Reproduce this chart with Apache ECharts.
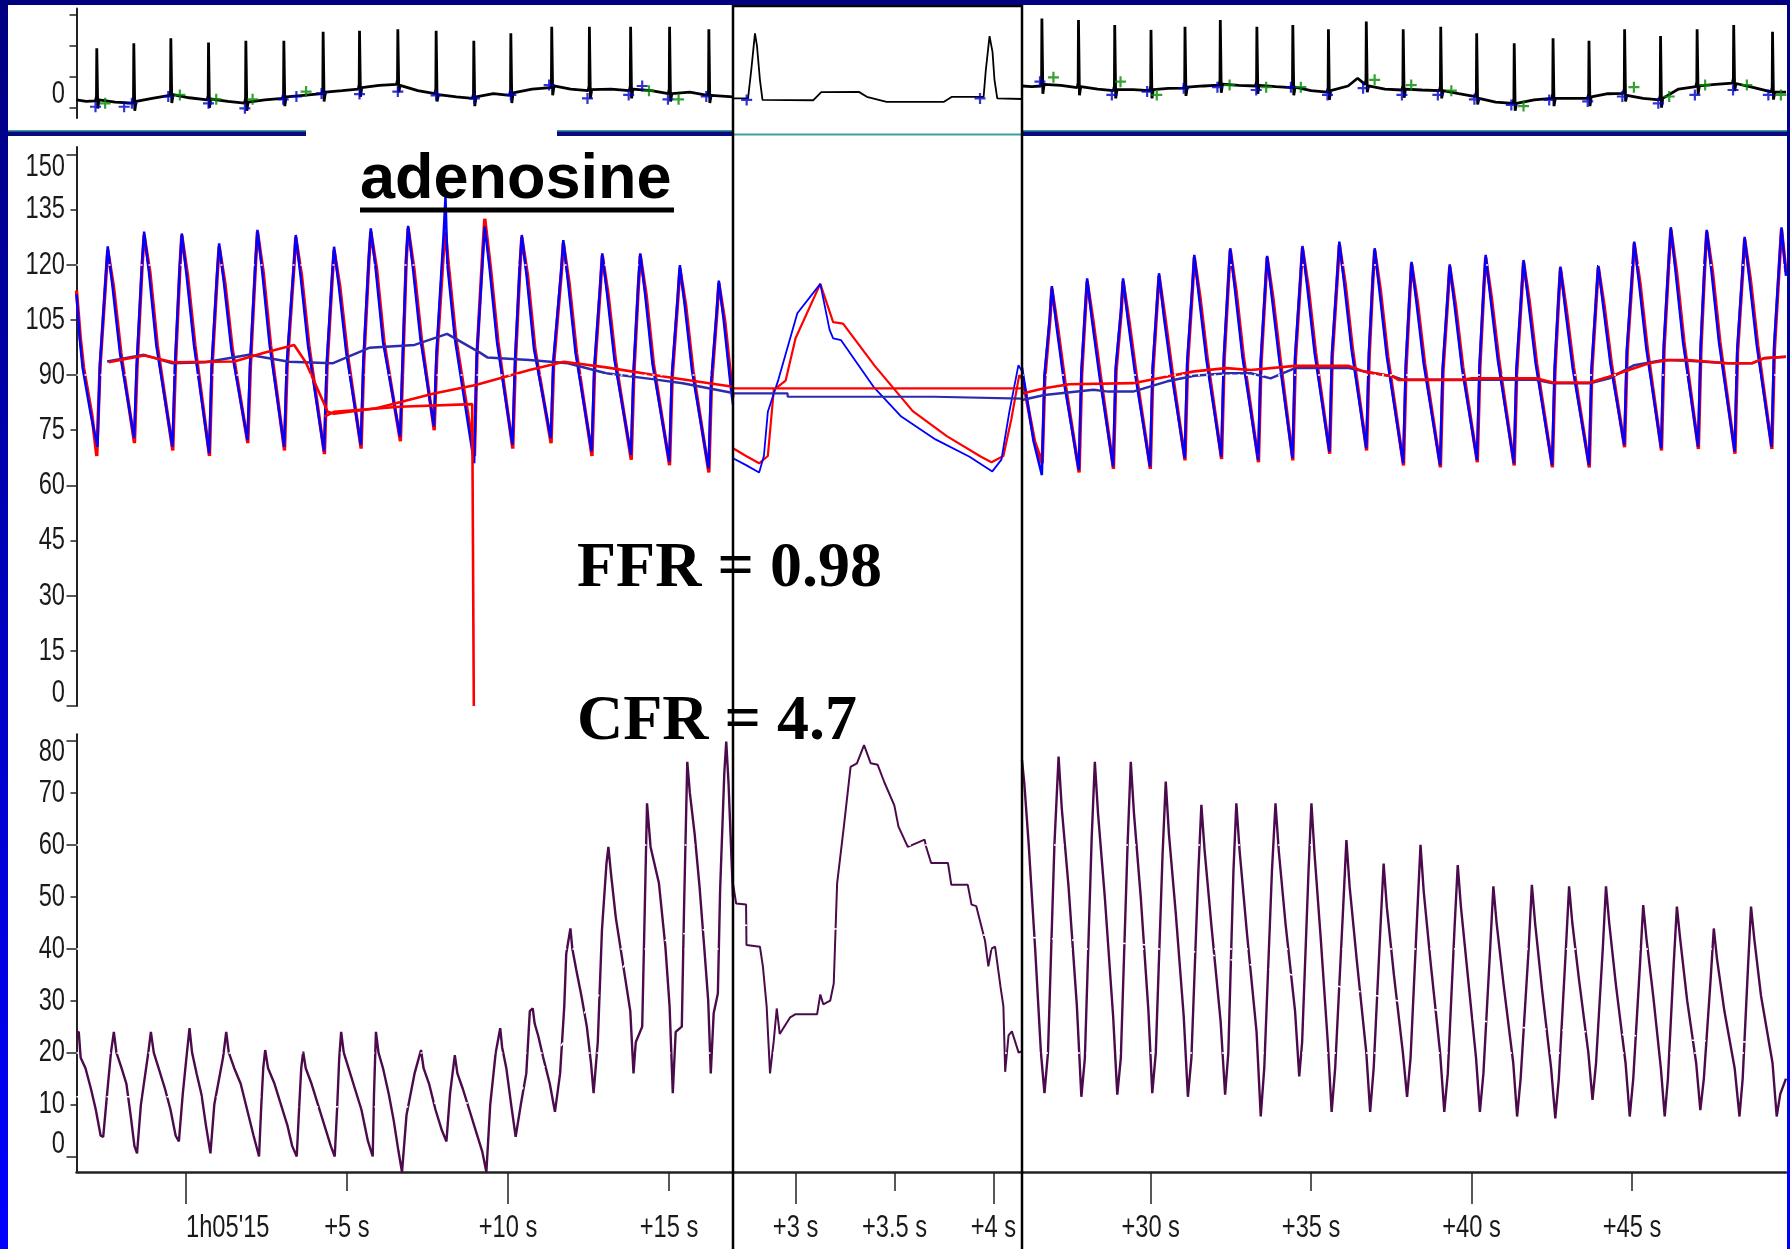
<!DOCTYPE html>
<html><head><meta charset="utf-8">
<script src="https://cdn.jsdelivr.net/npm/echarts@6/dist/echarts.min.js"></script>
<style>html,body{margin:0;padding:0;background:#fff;overflow:hidden}#c{width:1790px;height:1249px}</style>
</head><body><div id="c"></div><script>
// ---------------- tick labels ----------------
const leftTickValues = [0, 5, 10, 15];
const leftTickLabels = ["1h05'15", '+5 s', '+10 s', '+15 s'];
const leftMajor = [0, 10], leftMinor = [5, 15];
const midTickValues = [3, 3.5, 4];
const midTickLabels = ['+3 s', '+3.5 s', '+4 s'];
const midMajor = [3, 4], midMinor = [3.5];
const rightTickValues = [30, 35, 40, 45];
const rightTickLabels = ['+30 s', '+35 s', '+40 s', '+45 s'];
const rightMajor = [30, 40], rightMinor = [35, 45];
const pressureLabels = [0, 15, 30, 45, 60, 75, 90, 105, 120, 135, 150];
const pressureMajor = [0, 30, 60, 90, 120, 150], pressureMinor = [15, 45, 75, 105, 135];
const flowLabels = [0, 10, 20, 30, 40, 50, 60, 70, 80];
const flowMajor = [0, 20, 40, 60, 80], flowMinor = [10, 30, 50, 70];
const ecgTicks = [0, 1, 2, 3], ecgLabels = [0];
const xRangeLeft = [-3.4, 16.99], xRangeMid = [2.684, 4.144], xRangeRight = [25.99, 49.8];

// ---------------- ECG ----------------
const ecgLeft = [
[-3.40,0.25],[-3.10,0.20],
[-2.81,0.22],[-2.78,0.37],[-2.77,1.92],[-2.74,-0.03],[-2.70,0.25],[-2.20,0.18],
[-1.66,0.15],[-1.63,0.30],[-1.62,2.08],[-1.59,-0.10],[-1.55,0.20],[-1.05,0.30],
[-0.51,0.40],[-0.48,0.55],[-0.47,2.24],[-0.44,0.15],[-0.40,0.42],[0.10,0.32],
[0.66,0.25],[0.69,0.40],[0.70,2.10],[0.73,0.00],[0.77,0.28],[1.30,0.20],
[1.82,0.15],[1.85,0.30],[1.86,2.16],[1.89,-0.10],[1.93,0.18],[2.45,0.25],
[3.00,0.30],[3.03,0.45],[3.04,2.16],[3.07,0.05],[3.11,0.35],[3.65,0.40],
[4.22,0.45],[4.25,0.60],[4.26,2.45],[4.29,0.20],[4.33,0.50],[4.85,0.55],
[5.35,0.60],[5.38,0.75],[5.39,2.48],[5.42,0.35],[5.46,0.65],[6.00,0.72],
[6.54,0.75],[6.57,0.90],[6.58,2.53],[6.61,0.50],[6.65,0.72],[7.20,0.55],
[7.73,0.45],[7.76,0.60],[7.77,2.48],[7.80,0.20],[7.84,0.42],[8.40,0.35],
[8.90,0.30],[8.93,0.45],[8.94,2.16],[8.97,0.05],[9.01,0.35],[9.55,0.45],
[10.05,0.40],[10.08,0.55],[10.09,2.40],[10.12,0.15],[10.16,0.48],[10.75,0.60],
[11.32,0.65],[11.35,0.80],[11.36,2.61],[11.39,0.40],[11.43,0.70],[11.95,0.60],
[12.49,0.55],[12.52,0.70],[12.53,2.61],[12.56,0.30],[12.60,0.58],[13.20,0.60],
[13.77,0.55],[13.80,0.70],[13.81,2.61],[13.84,0.30],[13.88,0.60],[14.45,0.55],
[14.98,0.45],[15.01,0.60],[15.02,2.61],[15.05,0.20],[15.09,0.45],[15.65,0.50],
[16.20,0.40],[16.23,0.55],[16.24,2.53],[16.27,0.15],[16.31,0.40],[16.99,0.35]
];
const ecgMid = [
[2.684,0.30],[2.76,0.30],[2.776,1.20],[2.795,2.40],[2.805,2.00],[2.82,0.90],[2.833,0.25],
[3.09,0.24],[3.13,0.50],[3.32,0.51],[3.36,0.35],[3.46,0.19],[3.75,0.19],[3.79,0.35],[3.95,0.35],
[3.961,1.20],[3.98,2.31],[3.995,1.80],[4.005,0.90],[4.019,0.30],[4.144,0.28]
];
const ecgRight = [
[25.99,0.70],[26.30,0.68],
[26.57,0.70],[26.60,0.85],[26.61,2.88],[26.64,0.45],[26.68,0.75],[27.20,0.72],
[27.71,0.65],[27.74,0.80],[27.75,2.83],[27.78,0.40],[27.82,0.68],[28.35,0.60],
[28.84,0.55],[28.87,0.70],[28.88,2.67],[28.91,0.30],[28.95,0.58],[29.45,0.58],
[29.97,0.55],[30.00,0.70],[30.01,2.51],[30.04,0.30],[30.08,0.58],[30.55,0.62],
[31.03,0.63],[31.06,0.78],[31.07,2.61],[31.10,0.38],[31.14,0.66],[31.65,0.70],
[32.13,0.73],[32.16,0.88],[32.17,2.83],[32.20,0.48],[32.24,0.76],[32.75,0.72],
[33.27,0.70],[33.30,0.85],[33.31,2.61],[33.34,0.45],[33.38,0.72],[33.90,0.68],
[34.39,0.65],[34.42,0.80],[34.43,2.67],[34.46,0.40],[34.50,0.66],[35.00,0.55],
[35.50,0.50],[35.53,0.65],[35.54,2.53],[35.57,0.25],[35.61,0.55],[36.15,0.70],
[36.45,0.95],[36.68,0.75],[36.71,0.90],[36.72,2.78],[36.75,0.50],[36.79,0.70],[37.30,0.60],
[37.83,0.57],[37.86,0.72],[37.87,2.53],[37.90,0.32],[37.94,0.60],[38.45,0.57],
[39.00,0.55],[39.03,0.70],[39.04,2.61],[39.07,0.30],[39.11,0.55],[39.60,0.45],
[40.12,0.36],[40.15,0.51],[40.16,2.40],[40.19,0.10],[40.23,0.30],[40.75,0.18],
[41.29,0.14],[41.32,0.29],[41.33,2.08],[41.36,-0.10],[41.40,0.14],[41.95,0.25],
[42.50,0.30],[42.53,0.45],[42.54,2.24],[42.57,0.05],[42.61,0.30],[43.10,0.30],
[43.62,0.30],[43.65,0.45],[43.66,2.16],[43.69,0.05],[43.73,0.35],[44.25,0.45],
[44.73,0.46],[44.76,0.61],[44.77,2.53],[44.80,0.20],[44.84,0.40],[45.35,0.30],
[45.85,0.25],[45.88,0.40],[45.89,2.31],[45.92,0.00],[45.96,0.30],[46.45,0.60],
[46.99,0.68],[47.02,0.83],[47.03,2.53],[47.06,0.43],[47.10,0.70],[47.60,0.75],
[48.13,0.79],[48.16,0.94],[48.17,2.67],[48.20,0.54],[48.24,0.78],[48.80,0.65],
[49.34,0.51],[49.37,0.66],[49.38,2.45],[49.41,0.26],[49.45,0.50],[49.80,0.50]
];
const ecgBlueLeft = [[-2.81,0.03],[-1.92,0.03],[-1.68,0.14],[-0.55,0.36],[0.70,0.14],[1.83,-0.02],[3.02,0.27],[3.43,0.36],[4.21,0.46],[5.39,0.44],[6.58,0.52],[7.77,0.40],[8.96,0.30],[10.09,0.41],[11.28,0.73],[12.47,0.30],[13.75,0.41],[14.17,0.70],[14.97,0.27],[16.16,0.36]];
const ecgGreenLeft = [[-2.51,0.14],[-0.19,0.41],[0.94,0.27],[2.07,0.27],[3.73,0.52],[14.38,0.55],[15.30,0.27]];
const ecgBlueMid = [[2.753,0.25],[3.932,0.30]];
const ecgBlueRight = [[26.55,0.84],[28.79,0.41],[29.89,0.52],[31.03,0.63],[32.08,0.66],[33.29,0.57],[34.37,0.66],[35.51,0.41],[36.62,0.63],[37.83,0.41],[38.95,0.41],[40.09,0.27],[41.24,0.09],[42.42,0.25],[43.62,0.20],[44.70,0.36],[45.82,0.14],[46.96,0.41],[48.15,0.57],[49.25,0.41]];
const ecgGreenRight = [[26.97,0.98],[29.06,0.84],[30.19,0.41],[32.46,0.73],[33.60,0.66],[34.68,0.66],[36.98,0.90],[38.12,0.73],[39.37,0.55],[41.62,0.05],[45.06,0.66],[46.16,0.36],[47.28,0.73],[48.58,0.73],[49.64,0.41]];

// ---------------- Pressure ----------------
const paLeft = [
[-3.40,112],[-3.30,100],[-3.21,92],[-2.95,79],[-2.75,70.5],
[-2.67,93],[-2.49,117],[-2.43,125],[-2.28,114],[-2.05,96],[-1.61,72.8],
[-1.53,93],[-1.36,121],[-1.30,129],[-1.15,118],[-0.92,98],[-0.42,70.5],
[-0.34,93],[-0.19,120],[-0.13,128.5],[0.02,117],[0.25,98],[0.72,68.7],
[0.80,93],[0.97,118],[1.03,125.8],[1.18,115],[1.41,97],[1.91,72.3],
[1.99,93],[2.16,121],[2.22,129.5],[2.37,118],[2.60,98],[3.05,70.5],
[3.13,93],[3.35,120],[3.41,128.1],[3.56,117],[3.79,98],[4.29,69.2],
[4.37,93],[4.54,117],[4.60,124.9],[4.75,114],[4.98,96],[5.43,71.0],
[5.51,94],[5.68,122],[5.74,129.9],[5.89,119],[6.12,99],[6.65,73.2],
[6.73,95],[6.84,122],[6.90,130.6],[7.05,119],[7.28,100],[7.70,76.0],
[7.78,96],[8.00,128],[8.06,138.5],[8.12,120],[8.35,100],[8.95,66.0],
[9.03,95],[9.22,122],[9.28,130.4],[9.43,119],[9.66,99],[10.14,71.0],
[10.22,94],[10.37,120],[10.43,128.1],[10.58,117],[10.81,97],[11.33,72.8],
[11.41,94],[11.66,119],[11.72,126.7],[11.87,115],[12.10,96],[12.60,69.2],
[12.68,92],[12.87,115],[12.93,123.1],[13.08,112],[13.31,94],[13.82,68.3],
[13.90,91],[14.05,115],[14.11,123.1],[14.26,112],[14.49,93],[15.01,66.4],
[15.09,90],[15.28,112],[15.34,119.9],[15.49,109],[15.72,91],[16.23,64.6],
[16.31,88],[16.49,108],[16.55,115.7],[16.70,105],[16.93,86],[16.99,82]
];
const pdLeft = [
[-3.40,113],[-3.28,100],[-3.18,92],[-2.92,79],[-2.77,68.0],
[-2.67,92],[-2.49,116],[-2.43,124],[-2.25,114],[-2.02,96],[-1.60,71.5],
[-1.52,92],[-1.36,120],[-1.30,128],[-1.12,118],[-0.89,98],[-0.41,69.5],
[-0.33,92],[-0.19,119],[-0.13,128],[0.05,117],[0.28,98],[0.73,68.0],
[0.81,92],[0.97,117],[1.03,125],[1.21,115],[1.44,97],[1.92,71.5],
[2.00,92],[2.16,120],[2.22,129],[2.40,118],[2.63,98],[3.06,69.5],
[3.14,92],[3.35,119],[3.41,127.5],[3.59,117],[3.82,98],[4.30,68.5],
[4.38,92],[4.54,116],[4.60,124],[4.78,114],[5.01,96],[5.44,70.0],
[5.52,93],[5.68,121],[5.74,129],[5.92,119],[6.15,99],[6.66,72.0],
[6.74,94],[6.84,121],[6.90,130],[7.08,119],[7.31,100],[7.71,75.0],
[7.79,95],[8.00,124],[8.06,129],[8.15,120],[8.38,100],[8.96,68.0],
[9.04,96],[9.22,124],[9.28,132.5],[9.46,119],[9.69,99],[10.15,70.0],
[10.23,93],[10.37,119],[10.43,127.5],[10.61,117],[10.84,97],[11.34,71.5],
[11.42,93],[11.66,118],[11.72,126],[11.90,115],[12.13,96],[12.61,68.0],
[12.69,91],[12.87,114],[12.93,122.5],[13.11,112],[13.34,94],[13.83,67.0],
[13.91,90],[14.05,114],[14.11,122.5],[14.29,112],[14.52,93],[15.02,65.5],
[15.10,89],[15.28,111],[15.34,119],[15.52,109],[15.75,91],[16.24,63.5],
[16.32,87],[16.49,107],[16.55,115],[16.73,105],[16.96,86],[16.99,84]
];
const paMeanLeft = [[-2.45,93.7],[-1.30,95.5],[-0.42,93.2],[0.60,93.5],[1.96,95.5],[3.20,93.6],[4.55,93.2],[5.69,97.4],[7.10,98.2],[8.11,101.2],[9.13,96.1],[9.36,94.8],[10.67,94.1],[11.86,93.2],[13.05,90.5],[14.48,88.9],[15.43,87.8],[16.99,85.1]];
const pdMeanLeft = [[-2.40,93.5],[-1.30,95.3],[-0.40,93.5],[1.50,93.7],[2.43,96.1],[3.36,98.2],[3.72,93.5],[4.40,80.0],[4.60,79.5],[5.91,81.0],[7.70,85.0],[9.00,87.3],[10.67,91.4],[11.74,93.6],[13.05,92.1],[14.83,89.6],[16.99,86.8]];
const pdMeanLeftOld = [[4.30,78.7],[4.60,80.0],[6.63,81.4],[8.89,82.1],[8.94,82.0],[8.94,0]];

const paMid = [[2.684,67.4],[2.75,65.5],[2.816,63.5],[2.84,68],[2.86,80],[2.913,88.7],[3.009,106.8],[3.125,114.8],[3.172,102.3],[3.19,100],[3.23,99.5],[3.394,86.8],[3.534,78.7],[3.707,72.5],[3.879,67.8],[3.994,63.8],[4.04,67],[4.08,80],[4.126,92.7],[4.144,91]];
const pdMid = [[2.684,70.1],[2.75,68],[2.816,66.0],[2.86,68],[2.89,86],[2.95,88.5],[3.0,100],[3.125,114.8],[3.19,104.4],[3.24,104],[3.40,92.5],[3.592,80.2],[3.764,73.4],[3.937,67.8],[3.99,66.3],[4.05,68],[4.09,78],[4.13,90],[4.144,89]];
const paMeanMid = [[2.684,85.0],[2.96,85.0],[2.96,84.1],[3.70,84.1],[3.70,83.6],[4.144,83.6]];
const pdMeanMid = [[2.684,86.4],[4.144,86.4]];

const paRight = [
[25.99,92],[26.10,86],[26.35,72],[26.61,62.8],
[26.69,90],[26.86,106],[26.92,114.2],[27.07,103],[27.30,88],[27.76,64.2],
[27.84,91],[27.96,108],[28.02,116.3],[28.17,105],[28.40,90],[28.83,65.1],
[28.91,92],[29.08,108],[29.14,116.3],[29.29,105],[29.52,90],[29.98,65.1],
[30.06,92],[30.20,110],[30.26,117.7],[30.41,106],[30.64,91],[31.06,67.4],
[31.14,94],[31.30,114],[31.36,122.7],[31.51,111],[31.74,94],[32.20,67.8],
[32.28,95],[32.42,116],[32.48,124.5],[32.63,113],[32.86,95],[33.35,66.9],
[33.43,94],[33.57,114],[33.63,122.4],[33.78,111],[34.01,94],[34.42,67.4],
[34.50,95],[34.67,117],[34.73,125.1],[34.88,114],[35.11,96],[35.57,69.2],
[35.65,96],[35.82,118],[35.88,126.3],[36.03,115],[36.26,97],[36.72,70.1],
[36.80,96],[36.92,116],[36.98,124.5],[37.13,113],[37.36,95],[37.87,66.0],
[37.95,93],[38.07,112],[38.13,120.8],[38.28,110],[38.51,93],[39.02,65.5],
[39.10,92],[39.26,112],[39.32,120.1],[39.47,109],[39.70,92],[40.17,66.9],
[40.25,93],[40.38,114],[40.44,122.7],[40.59,111],[40.82,94],[41.32,66.0],
[41.40,92],[41.56,113],[41.62,121.3],[41.77,110],[42.00,93],[42.51,65.5],
[42.59,92],[42.71,111],[42.77,119.5],[42.92,108],[43.15,92],[43.66,65.5],
[43.74,92],[43.89,112],[43.95,119.9],[44.10,109],[44.33,93],[44.76,71.0],
[44.84,97],[45.01,118],[45.07,126.3],[45.22,115],[45.45,97],[45.91,70.1],
[45.99,98],[46.15,122],[46.21,130.2],[46.36,118],[46.59,99],[47.06,70.5],
[47.14,98],[47.27,121],[47.33,129.5],[47.48,118],[47.71,99],[48.20,69.2],
[48.28,97],[48.45,119],[48.51,127.6],[48.66,116],[48.89,98],[49.35,70.5],
[49.43,98],[49.60,122],[49.66,130.2],[49.80,117]
];
const pdRight = [
[25.99,90],[26.12,84],[26.38,72],[26.62,66.0],
[26.70,89],[26.86,105],[26.92,113.5],[27.10,103],[27.33,88],[27.77,63.5],
[27.85,90],[27.96,107],[28.02,115.5],[28.20,105],[28.43,90],[28.84,64.5],
[28.92,91],[29.08,107],[29.14,115.5],[29.32,105],[29.55,90],[29.99,64.5],
[30.07,91],[30.20,109],[30.26,117],[30.44,106],[30.67,91],[31.07,66.8],
[31.15,93],[31.30,113],[31.36,122],[31.54,111],[31.77,94],[32.21,67.2],
[32.29,94],[32.42,115],[32.48,124],[32.66,113],[32.89,95],[33.36,66.3],
[33.44,93],[33.57,113],[33.63,122],[33.81,111],[34.04,94],[34.43,66.8],
[34.51,94],[34.67,116],[34.73,124.5],[34.91,114],[35.14,96],[35.58,68.6],
[35.66,95],[35.82,117],[35.88,125.5],[36.06,115],[36.29,97],[36.73,69.5],
[36.81,95],[36.92,115],[36.98,124],[37.16,113],[37.39,95],[37.88,65.4],
[37.96,92],[38.07,111],[38.13,120.3],[38.31,110],[38.54,93],[39.03,64.9],
[39.11,91],[39.26,111],[39.32,119.5],[39.50,109],[39.73,92],[40.18,66.3],
[40.26,92],[40.38,113],[40.44,122],[40.62,111],[40.85,94],[41.33,65.4],
[41.41,91],[41.56,112],[41.62,120.8],[41.80,110],[42.03,93],[42.52,64.9],
[42.60,91],[42.71,110],[42.77,119],[42.95,108],[43.18,92],[43.67,64.9],
[43.75,91],[43.89,111],[43.95,119.3],[44.13,109],[44.36,93],[44.77,70.4],
[44.85,96],[45.01,117],[45.07,125.8],[45.25,115],[45.48,97],[45.92,69.5],
[46.00,97],[46.15,121],[46.21,129.6],[46.39,118],[46.62,99],[47.07,69.9],
[47.15,97],[47.27,120],[47.33,129],[47.51,118],[47.74,99],[48.21,68.6],
[48.29,96],[48.45,118],[48.51,127],[48.69,116],[48.92,98],[49.36,69.9],
[49.44,97],[49.60,121],[49.66,129.6],[49.80,118]
];
const paMeanRight = [[25.99,83.2],[26.69,84.6],[28.22,86.0],[28.68,85.5],[29.45,85.5],[30.52,88.3],[31.36,89.8],[32.36,90.5],[33.12,90.5],[33.74,89.1],[34.50,91.9],[36.18,91.9],[36.64,91.0],[37.56,89.6],[37.87,88.7],[42.0,88.7],[42.54,87.8],[43.69,87.8],[44.30,89.1],[45.07,92.7],[45.98,94.1],[46.75,93.9],[47.98,93.2],[48.74,93.2],[49.12,94.6],[49.80,95.0]];
const pdMeanRight = [[25.99,85.0],[26.69,86.4],[27.46,87.5],[29.45,87.8],[30.52,89.6],[31.36,91.0],[32.36,91.9],[33.12,91.4],[34.50,92.5],[36.18,92.5],[36.64,91.0],[37.56,89.6],[37.72,88.7],[39.71,88.7],[40.01,89.1],[42.0,89.1],[42.54,88.0],[43.69,88.0],[44.30,89.6],[45.53,93.2],[46.14,94.1],[46.75,94.1],[47.98,93.2],[48.74,93.2],[49.12,94.6],[49.80,95.0]];

// ---------------- Flow velocity ----------------
const flowLeft = [
[-3.40,23.7],[-3.33,24],[-3.27,19],[-3.12,17],[-2.95,13],[-2.80,9],[-2.65,4],[-2.57,3.8],[-2.45,12],[-2.33,20],[-2.24,24],
[-2.16,20],[-2.00,17],[-1.85,14],[-1.72,8],[-1.60,2],[-1.52,0.6],[-1.40,10],[-1.17,20],[-1.09,24],
[-1.00,20],[-0.85,17],[-0.65,13],[-0.48,9],[-0.32,4],[-0.22,2.9],[-0.10,12],[0.03,20],[0.11,24.7],
[0.19,20],[0.33,16],[0.48,12],[0.62,6],[0.76,0.6],[0.88,10],[1.15,19],[1.25,24],
[1.33,20],[1.50,17],[1.70,14],[1.90,9],[2.10,4],[2.27,0],[2.34,10],[2.40,17],[2.46,20.5],
[2.55,17],[2.75,14],[2.95,10],[3.15,6],[3.30,2],[3.44,0],[3.52,10],[3.58,17],[3.64,20.2],
[3.72,17],[3.90,14],[4.10,10],[4.30,6],[4.50,2],[4.62,0],[4.70,10],[4.76,19],[4.82,24],
[4.90,20],[5.05,17],[5.25,13],[5.45,9],[5.65,3],[5.80,0],[5.84,12],[5.90,24],
[5.98,20],[6.12,17],[6.30,12],[6.45,7],[6.60,1],[6.71,-3],[6.85,8],[7.10,16],[7.30,20.5],
[7.38,17],[7.55,14],[7.75,9],[7.95,5],[8.09,2.9],[8.20,12],[8.35,19.5],
[8.43,16],[8.60,13],[8.80,9],[9.00,5],[9.20,1],[9.33,-3],[9.45,10],[9.62,20],[9.76,24.7],
[9.82,21],[9.95,17],[10.10,10],[10.24,3.8],[10.40,10],[10.57,16],[10.68,28],[10.77,28.5],
[10.83,25.6],[10.95,23],[11.09,19.2],[11.30,14],[11.46,8.6],[11.62,16],[11.75,29],[11.81,39],[11.94,43.9],
[12.00,40],[12.12,36],[12.28,31],[12.45,25],[12.58,18],[12.66,12.2],[12.79,22],[12.92,43.6],[13.06,56.4],[13.12,59.6],
[13.20,54.5],[13.35,46],[13.50,40],[13.65,34],[13.80,28],[13.90,16.0],[13.97,22],[14.17,25],[14.23,42],[14.32,68.0],
[14.43,59.6],[14.69,52.6],[14.89,40.4],[15.02,29],[15.12,12.2],[15.21,24],[15.40,25],[15.47,48],[15.57,76.0],
[15.65,70],[15.80,62],[15.95,52],[16.10,40],[16.22,30],[16.30,16.0],[16.39,27.6],[16.52,31.4],[16.59,51.3],[16.72,73.8],[16.78,79.9],
[16.85,72],[16.99,50]
];
const flowMid = [[2.684,52.6],[2.70,48.7],[2.75,48.5],[2.752,40.7],[2.82,40.4],[2.835,36.6],[2.854,28.9],[2.871,16.0],[2.89,22.3],[2.905,28.5],[2.92,23.6],[2.973,26.8],[3.00,27.4],[3.109,27.4],[3.125,31.2],[3.14,29.3],[3.175,30],[3.193,33.3],[3.21,52.6],[3.244,63.5],[3.278,75.0],[3.31,75.7],[3.346,79.2],[3.38,75.7],[3.415,75.4],[3.448,72.1],[3.499,67.6],[3.52,63.5],[3.567,59.6],[3.652,61.0],[3.66,59.6],[3.685,56.5],[3.77,56.5],[3.787,52.3],[3.87,52.3],[3.889,48.5],[3.913,48.2],[3.957,41.6],[3.974,36.6],[3.99,40],[4.008,40.4],[4.035,32.8],[4.05,28.9],[4.059,16.3],[4.076,23.3],[4.093,24.1],[4.127,20.0],[4.144,20.3]];
const flowRight = [
[25.99,76.3],[26.06,72],[26.2,60],[26.4,40],[26.58,20],[26.69,12.2],[26.80,20],[27.0,60],[27.13,77.0],
[27.23,67],[27.44,52],[27.70,29],[27.84,11.5],[27.95,19],[28.16,61],[28.26,76.0],
[28.36,66],[28.57,50],[28.83,27],[28.96,11.9],[29.07,19],[29.28,60],[29.38,76.0],
[29.48,66],[29.69,50],[29.93,28],[30.05,12.2],[30.16,20],[30.37,58],[30.47,72.2],
[30.57,62],[30.78,47],[31.03,27],[31.16,11.5],[31.27,19],[31.48,54],[31.58,67.7],
[31.68,59],[31.90,44],[32.18,26],[32.32,11.9],[32.42,20],[32.58,55],[32.67,68.0],
[32.77,59],[33.00,43],[33.30,24],[33.43,7.7],[33.54,17],[33.78,55],[33.89,68.0],
[33.99,59],[34.20,45],[34.50,28],[34.63,15.4],[34.72,22],[34.92,55],[35.01,68.0],
[35.11,58],[35.30,42],[35.52,22],[35.64,8.6],[35.75,17],[36.00,48],[36.10,60.9],
[36.20,52],[36.42,38],[36.72,20],[36.84,8.6],[36.95,17],[37.16,44],[37.26,56.4],
[37.36,48],[37.58,35],[37.86,20],[37.99,11.5],[38.10,19],[38.31,47],[38.41,60.0],
[38.51,51],[38.73,37],[39.02,20],[39.15,8.6],[39.26,16],[39.47,44],[39.57,56.1],
[39.67,48],[39.88,35],[40.14,19],[40.26,8.6],[40.37,16],[40.58,40],[40.68,52.0],
[40.78,45],[41.00,33],[41.30,18],[41.42,7.7],[41.53,15],[41.78,40],[41.88,52.3],
[41.98,45],[42.20,32],[42.48,17],[42.61,7.35],[42.72,15],[42.94,40],[43.04,52.0],
[43.14,45],[43.35,34],[43.64,20],[43.77,10.9],[43.88,18],[44.09,40],[44.19,52.0],
[44.29,45],[44.50,33],[44.80,18],[44.93,7.7],[45.04,15],[45.25,37],[45.35,48.4],
[45.45,42],[45.66,31],[45.90,17],[46.02,7.7],[46.12,15],[46.30,37],[46.40,48.1],
[46.50,42],[46.72,30],[47.00,18],[47.13,8.95],[47.24,15],[47.45,34],[47.55,43.9],
[47.65,38],[47.88,28],[48.20,17],[48.35,7.7],[48.45,15],[48.62,37],[48.71,48.1],
[48.81,42],[49.02,31],[49.38,18],[49.51,7.7],[49.62,12],[49.80,15]
];
const flowMeanLeft = [[-3.40,11.5],[2.46,11.5],[3.10,9.6],[7.00,9.6],[7.70,10.3],[9.65,10.3],[10.30,12.2],[11.35,18.7],[12.53,29.0],[13.71,37.4],[15.15,42.5],[16.99,44.8]];
const flowMeanMid = [[2.684,44.6],[3.10,44.0],[4.144,42.3]];
const flowMeanRight = [[25.99,42.3],[30.0,40.7],[31.7,39.1],[33.8,35.9],[35.9,32.7],[38.0,29.5],[41.15,25.0],[44.3,23.7],[46.8,22.4],[49.8,21.8]];

// ---------------- styling / layout ----------------
const LBL_FONT = '32px "Liberation Sans", Arial, sans-serif';
const LBL = '#1a1a1a', AX = '#222', LBL_SCALE = 0.74;
const cols = [[76.5, 733], [733, 1022], [1022, 1786]];
const rows = [[8.5, 117.9], [147.1, 706], [734.2, 1172.1]];
const xr = [xRangeLeft, xRangeMid, xRangeRight];
const yr = [[-0.33, 3.2], [0, 152], [-3, 81.3]];

const grids = [], xAxes = [], yAxes = [];
for (let r = 0; r < 3; r++) for (let c = 0; c < 3; c++) {
  grids.push({left: cols[c][0], width: cols[c][1] - cols[c][0], top: rows[r][0], height: rows[r][1] - rows[r][0], containLabel: false, outerBoundsMode: 'none'});
  const gi = r * 3 + c;
  xAxes.push({gridIndex: gi, type: 'value', min: xr[c][0], max: xr[c][1], show: false, position: 'bottom', axisLine: {onZero: false}, splitLine: {show: false}});
  yAxes.push({gridIndex: gi, type: 'value', min: yr[r][0], max: yr[r][1], show: false, position: 'left', axisLine: {onZero: false}, splitLine: {show: false}});
}
const tickLine = {color: AX, width: 1.5};
const xDefs = [[leftTickValues, leftTickLabels, leftMajor, leftMinor], [midTickValues, midTickLabels, midMajor, midMinor], [rightTickValues, rightTickLabels, rightMajor, rightMinor]];
for (let c = 0; c < 3; c++) {
  const [vals, labs, maj, mnr] = xDefs[c];
  Object.assign(xAxes[6 + c], {show: true,
    axisLine: {show: true, onZero: false, lineStyle: {color: AX, width: 2.5}},
    axisTick: {show: true, customValues: maj, length: 32, lineStyle: tickLine},
    axisLabel: {show: false}});
  xAxes.push({gridIndex: 6 + c, type: 'value', min: xr[c][0], max: xr[c][1], position: 'bottom', show: true,
    axisLine: {show: false, onZero: false}, axisLabel: {show: false}, splitLine: {show: false},
    axisTick: {show: true, customValues: mnr, length: 19, lineStyle: tickLine}});
}
function yTickAxis(ax, ticks, tickLen) {
  Object.assign(ax, {show: true,
    axisLine: {show: true, onZero: false, lineStyle: {color: AX, width: 2}},
    axisTick: {show: true, customValues: ticks, length: tickLen, lineStyle: tickLine},
    axisLabel: {show: false}});
}
yTickAxis(yAxes[0], ecgTicks, 7);
yTickAxis(yAxes[3], pressureMajor, 10);
yTickAxis(yAxes[6], flowMajor, 10);
yAxes.push({gridIndex: 3, type: 'value', min: yr[1][0], max: yr[1][1], position: 'left', show: true,
  axisLine: {show: false, onZero: false}, axisLabel: {show: false}, splitLine: {show: false},
  axisTick: {show: true, customValues: pressureMinor, length: 6, lineStyle: tickLine}});
yAxes.push({gridIndex: 6, type: 'value', min: yr[2][0], max: yr[2][1], position: 'left', show: true,
  axisLine: {show: false, onZero: false}, axisLabel: {show: false}, splitLine: {show: false},
  axisTick: {show: true, customValues: flowMinor, length: 6, lineStyle: tickLine}});

function line(gi, data, color, width, z, extra) {
  return Object.assign({type: 'line', xAxisIndex: gi, yAxisIndex: gi, data: data, showSymbol: false, symbol: 'none',
    lineStyle: {color: color, width: width}, z: z, silent: true, animation: false}, extra || {});
}
const whiteMark = vals => ({silent: true, symbol: ['none', 'none'], label: {show: false},
  lineStyle: {color: '#ffffff', type: [2, 6], width: 1.5}, data: vals.map(v => ({yAxis: v}))});
const PLUS = 'path://M4,0H6V4H10V6H6V10H4V6H0V4H4Z';
function marks(gi, data, color) {
  return {type: 'scatter', xAxisIndex: gi, yAxisIndex: gi, data: data, symbol: PLUS, symbolSize: 11,
    itemStyle: {color: color}, z: 5, silent: true, animation: false};
}
const RED = '#ff0000', BLUE = '#0000ff', MBLUE = '#2b2bb0', FLOW = '#4b0a4b';
const dashW = {lineStyle: {color: '#fff', width: 1.5, type: [4, 6]}};
const series = [
  line(0, ecgLeft, '#000', 2.8, 3), line(1, ecgMid, '#000', 1.8, 3), line(2, ecgRight, '#000', 2.8, 3),
  marks(0, ecgBlueLeft, '#0000c8'), marks(0, ecgGreenLeft, '#008a00'), marks(1, ecgBlueMid, '#0000c8'),
  marks(2, ecgBlueRight, '#0000c8'), marks(2, ecgGreenRight, '#008a00'),
  line(3, pdLeft, RED, 3.4, 2), line(3, paLeft, BLUE, 2.5, 3, {markLine: whiteMark([90, 120])}),
  line(3, paMeanLeft, MBLUE, 2.5, 4), line(3, pdMeanLeft, RED, 2.6, 4), line(3, pdMeanLeftOld, RED, 2.6, 4),
  line(4, pdMid, RED, 2.2, 2), line(4, paMid, BLUE, 1.8, 3, {markLine: whiteMark([90, 120])}),
  line(4, paMeanMid, MBLUE, 2.2, 4), line(4, pdMeanMid, RED, 2.2, 4),
  line(5, pdRight, RED, 3.4, 2), line(5, paRight, BLUE, 2.5, 3, {markLine: whiteMark([90, 120])}),
  line(5, paMeanRight, MBLUE, 2.5, 4), line(5, pdMeanRight, RED, 2.6, 4),
  line(6, flowLeft, FLOW, 2.4, 3, {markLine: whiteMark([20, 40, 60])}),
  line(7, flowMid, FLOW, 2, 3, {markLine: whiteMark([20, 40, 60])}),
  line(8, flowRight, FLOW, 2.4, 3, {markLine: whiteMark([20, 40, 60])}),
  line(6, flowMeanLeft, '#fff', 1.5, 4, dashW), line(7, flowMeanMid, '#fff', 1.5, 4, dashW), line(8, flowMeanRight, '#fff', 1.5, 4, dashW)
];

const grad = {type: 'linear', x: 0, y: 0, x2: 0, y2: 1, colorStops: [{offset: 0, color: '#000080'}, {offset: 1, color: '#0000ff'}]};
const NAVY = '#0a0a80', TEAL = '#3f9f9f';
const graphic = [
  {type: 'rect', shape: {x: 0, y: 0, width: 8, height: 1249}, style: {fill: grad}, z: 100},
  {type: 'rect', shape: {x: 1787, y: 0, width: 3, height: 1249}, style: {fill: grad}, z: 100},
  {type: 'rect', shape: {x: 0, y: 0, width: 1790, height: 5}, style: {fill: '#000080'}, z: 100},
  {type: 'rect', shape: {x: 8, y: 131, width: 298, height: 5}, style: {fill: NAVY}, z: 60},
  {type: 'rect', shape: {x: 8, y: 130, width: 298, height: 1.5}, style: {fill: TEAL}, z: 61},
  {type: 'rect', shape: {x: 557, y: 131, width: 176, height: 5}, style: {fill: NAVY}, z: 60},
  {type: 'rect', shape: {x: 557, y: 130, width: 176, height: 1.5}, style: {fill: TEAL}, z: 61},
  {type: 'rect', shape: {x: 733, y: 133.5, width: 289, height: 2}, style: {fill: TEAL}, z: 60},
  {type: 'rect', shape: {x: 1022, y: 131, width: 765, height: 5}, style: {fill: NAVY}, z: 60},
  {type: 'rect', shape: {x: 1022, y: 130, width: 765, height: 1.5}, style: {fill: TEAL}, z: 61},
  {type: 'line', shape: {x1: 733, y1: 5, x2: 733, y2: 1249}, style: {stroke: '#000', lineWidth: 2.5}, z: 70},
  {type: 'line', shape: {x1: 1022, y1: 5, x2: 1022, y2: 1249}, style: {stroke: '#000', lineWidth: 2.5}, z: 70},
  {type: 'line', shape: {x1: 733, y1: 6, x2: 1022, y2: 6}, style: {stroke: '#000', lineWidth: 2.5}, z: 70},
  {type: 'text', x: 360, y: 181, style: {text: 'adenosine', font: 'bold 63px "Liberation Sans", Arial, sans-serif', fill: '#000', align: 'left', verticalAlign: 'middle', textAlign: 'left', textVerticalAlign: 'middle'}, z: 90},
  {type: 'rect', shape: {x: 360, y: 207.5, width: 314, height: 5}, style: {fill: '#000'}, z: 90},
  {type: 'text', x: 577, y: 569, style: {text: 'FFR = 0.98', font: 'bold 64px "Liberation Serif", "Times New Roman", serif', fill: '#000', align: 'left', verticalAlign: 'middle', textAlign: 'left', textVerticalAlign: 'middle'}, z: 90},
  {type: 'text', x: 577, y: 722, style: {text: 'CFR = 4.7', font: 'bold 64px "Liberation Serif", "Times New Roman", serif', fill: '#000', align: 'left', verticalAlign: 'middle', textAlign: 'left', textVerticalAlign: 'middle'}, z: 90}
];

const chart = echarts.init(document.getElementById('c'), null, {renderer: 'canvas', width: 1790, height: 1249});
chart.setOption({animation: false, backgroundColor: '#ffffff', grid: grids, xAxis: xAxes, yAxis: yAxes, series: series, graphic: graphic});

// Tick labels: condensed text placed through the axes' own scales
function lbl(text, x, y, align) {
  return {type: 'text', x: x, y: y, scaleX: LBL_SCALE, z: 80,
    style: {text: text, font: LBL_FONT, fill: LBL, align: align, verticalAlign: 'middle', textAlign: align, textVerticalAlign: 'middle'}};
}
const labelEls = [];
const yDefs = [[0, ecgLabels, 0, 999, 14, 0], [3, pressureLabels, 0, 150, 13, 13], [6, flowLabels, 0, 80, 12.5, 11]];
yDefs.forEach(([ai, vals, lo, hi, dLo, dHi]) => {
  vals.forEach(v => {
    let y = chart.convertToPixel({yAxisIndex: ai}, v);
    if (v === lo) y -= dLo; else if (v === hi) y += dHi;
    labelEls.push(lbl(String(v), 65, y, 'right'));
  });
});
xDefs.forEach(([vals, labs], c) => {
  vals.forEach((v, i) => {
    const x = chart.convertToPixel({xAxisIndex: 6 + c}, v);
    labelEls.push(lbl(labs[i], x, 1228, (c === 0 && i === 0) ? 'left' : 'center'));
  });
});
chart.setOption({graphic: graphic.concat(labelEls)});
</script></body></html>
